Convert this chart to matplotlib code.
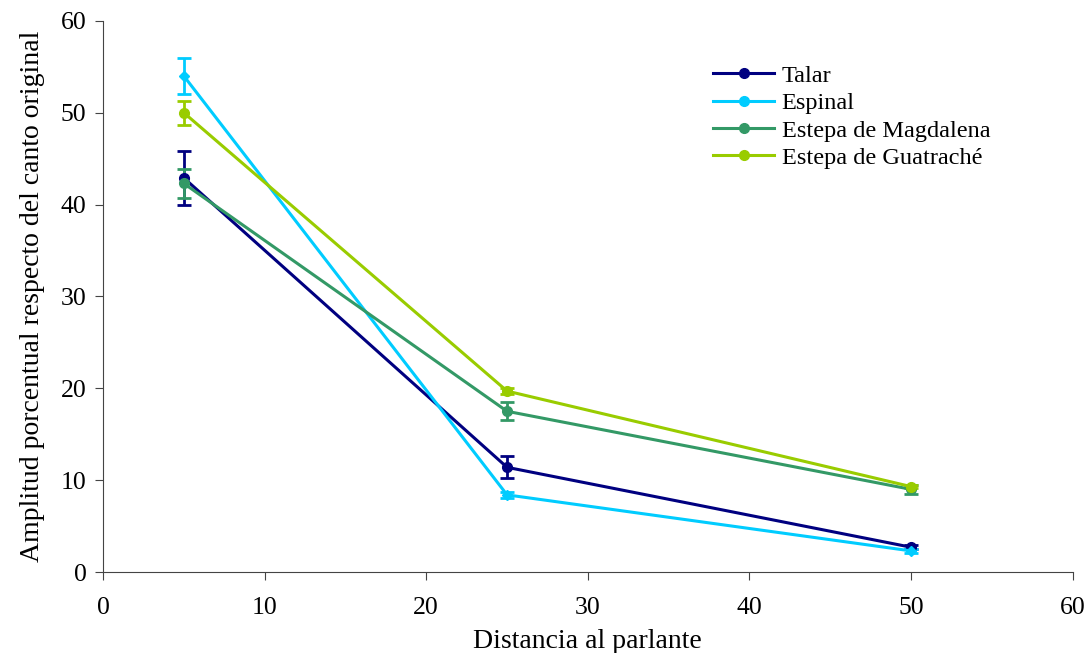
import matplotlib
matplotlib.use("Agg")
import matplotlib.pyplot as plt

distances = [5, 25, 50]

talar = [42.9, 11.4, 2.7]
talar_err = [2.9, 1.2, 0.2]
espinal = [54.0, 8.4, 2.3]
espinal_err = [2.0, 0.3, 0.2]
magdalena = [42.3, 17.5, 9.0]
magdalena_err = [1.6, 1.0, 0.5]
guatrache = [50.0, 19.7, 9.3]
guatrache_err = [1.3, 0.3, 0.2]

series = [
    ("Talar", talar, talar_err, "#000080", "o"),
    ("Espinal", espinal, espinal_err, "#00CCFF", "D"),
    ("Estepa de Magdalena", magdalena, magdalena_err, "#339966", "o"),
    ("Estepa de Guatraché", guatrache, guatrache_err, "#99CC00", "o"),
]

plt.rcParams["font.family"] = ["Liberation Serif", "DejaVu Serif"]

fig = plt.figure(figsize=(10.87, 6.53), dpi=100)
ax = fig.add_axes([0.0948, 0.124, 0.892, 0.844])

for name, vals, errs, color, marker in series:
    ax.errorbar(distances, vals, yerr=errs, color=color, lw=2.2,
                marker=marker, ms=7 if marker == "o" else 5.5,
                capsize=5, capthick=2, elinewidth=2, label=name)

ax.set_xlim(0, 60)
ax.set_ylim(0, 60)
ax.set_xticks(range(0, 61, 10))
ax.set_yticks(range(0, 61, 10))
ax.spines["top"].set_visible(False)
ax.spines["right"].set_visible(False)
for side in ("left", "bottom"):
    ax.spines[side].set_color("#444444")
ax.tick_params(direction="out", length=6, labelsize=18.5, color="#444444")
ax.tick_params(axis="x", pad=12)
ax.tick_params(axis="y", pad=6)
ax.set_xlabel("Distancia al parlante", fontsize=20, labelpad=7)
ax.set_ylabel("Amplitud porcentual respecto del canto original", fontsize=20,
              labelpad=11)

handles = [plt.Line2D([], [], color=c, lw=2.2, marker="o", ms=7)
           for _, _, _, c, _ in series]
ax.legend(handles, [s[0] for s in series], loc="upper left",
          bbox_to_anchor=(0.607, 0.96), frameon=False, fontsize=17.5,
          handlelength=2.5, handletextpad=0.3, labelspacing=0.22)

fig.savefig("out.png", dpi=100)
